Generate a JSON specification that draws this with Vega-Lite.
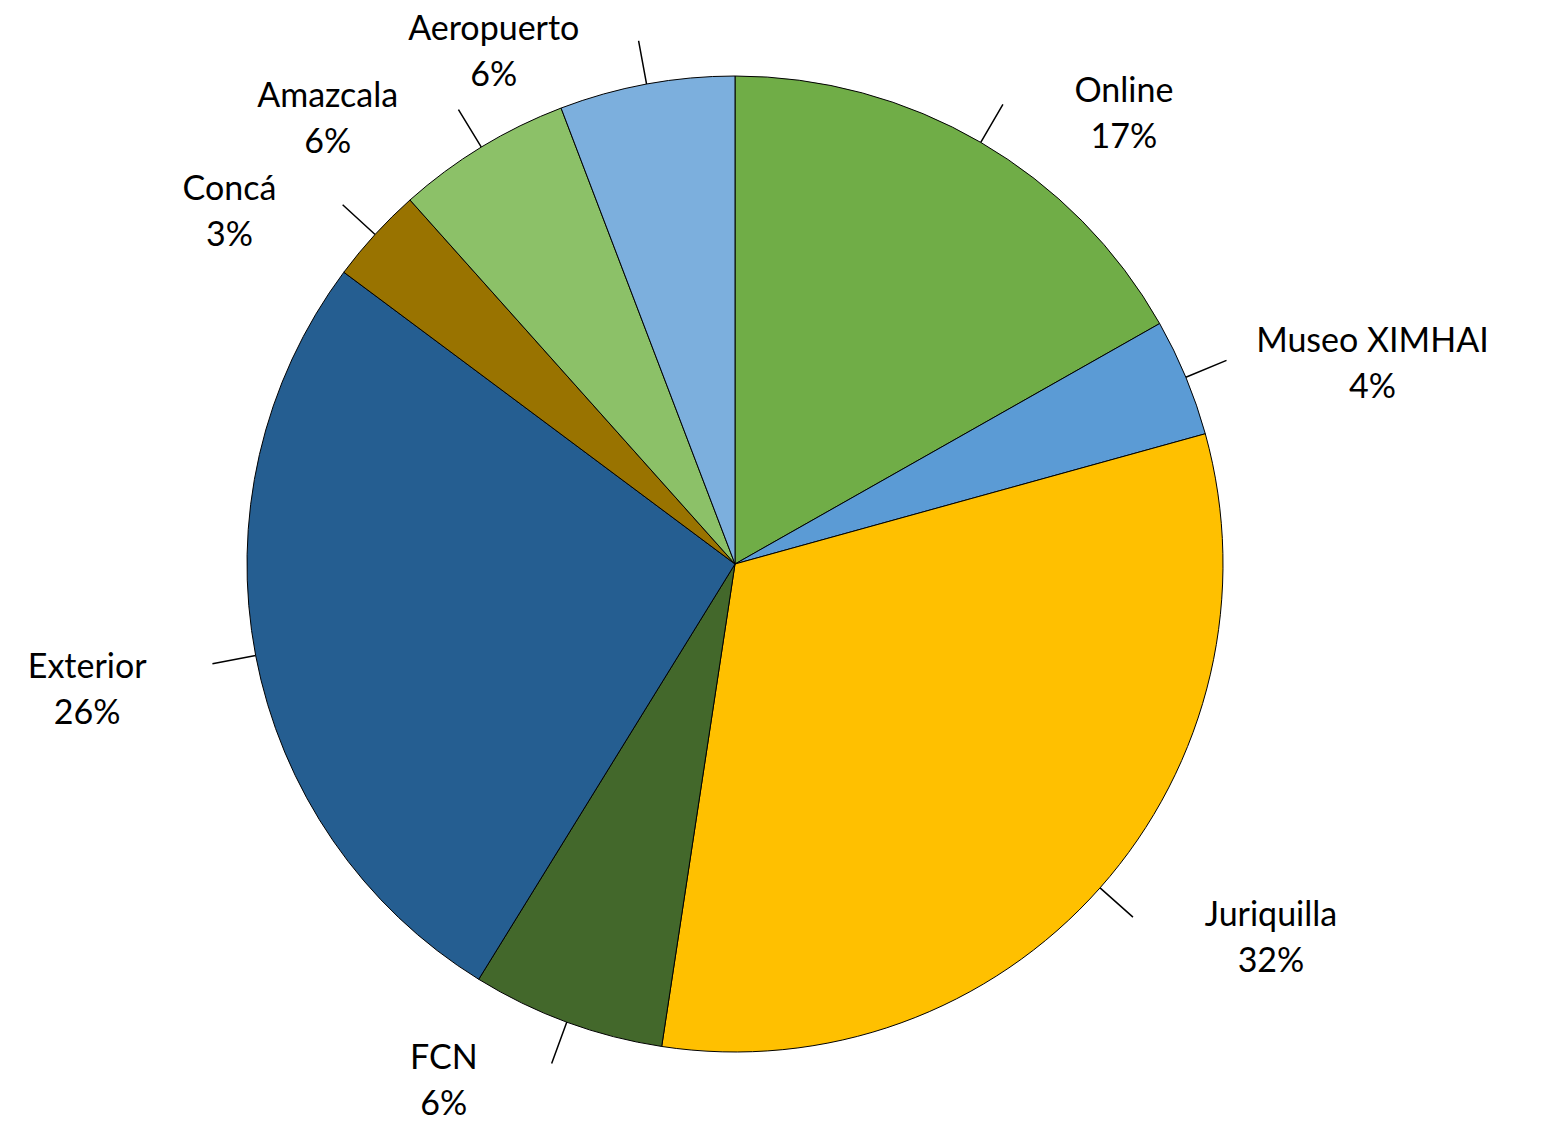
{
  "$schema": "https://vega.github.io/schema/vega-lite/v6.json",
  "width": 1470,
  "height": 1128,
  "autosize": {"type": "none"},
  "padding": {"left": 0, "top": 0, "right": 71, "bottom": 3},
  "background": "white",
  "config": {"view": {"stroke": null}},
  "data": {
    "values": [
      {"lugar": "Online", "pct": 16.8},
      {"lugar": "Museo XIMHAI", "pct": 3.9},
      {"lugar": "Juriquilla", "pct": 31.7},
      {"lugar": "FCN", "pct": 6.4},
      {"lugar": "Exterior", "pct": 26.4},
      {"lugar": "Concá", "pct": 3.2},
      {"lugar": "Amazcala", "pct": 5.8},
      {"lugar": "Aeropuerto", "pct": 5.8}
    ]
  },
  "transform": [
    {"window": [{"op": "sum", "field": "pct", "as": "fin"}], "frame": [null, 0]},
    {"calculate": "datum.fin - datum.pct", "as": "inicio"},
    {"calculate": "datum.fin - datum.pct / 2", "as": "medio"},
    {"calculate": "datum.lugar + '\\n' + format(datum.pct, '.0f') + '%'", "as": "etiqueta"}
  ],
  "layer": [
    {
      "mark": {"type": "arc", "radius": 488, "stroke": "black", "strokeWidth": 1},
      "encoding": {
        "theta": {"field": "inicio", "type": "quantitative", "scale": {"domain": [0, 100]}},
        "theta2": {"field": "fin"},
        "color": {
          "field": "lugar",
          "type": "nominal",
          "scale": {
            "domain": ["Online", "Museo XIMHAI", "Juriquilla", "FCN", "Exterior", "Concá", "Amazcala", "Aeropuerto"],
            "range": ["#70AD47", "#5B9BD5", "#FFC000", "#43682B", "#255E91", "#997300", "#8CC168", "#7CAFDD"]
          },
          "legend": null
        }
      }
    },
    {
      "mark": {"type": "arc", "radius": 532, "radius2": 488, "stroke": "black", "strokeWidth": 1.5, "fill": null},
      "encoding": {
        "theta": {"field": "medio", "type": "quantitative"},
        "theta2": {"field": "medio"}
      }
    },
    {
      "mark": {
        "type": "text",
        "radius": 520,
        "align": "center",
        "baseline": "middle",
        "dy": {"expr": "(datum.medio > 25 && datum.medio < 75) ? 7 : -23"},
        "dx": {"expr": "(datum.medio < 50 ? 1 : -1) * (length(datum.lugar) * 5 + 97)"},
        "font": "Lato",
        "fontSize": 34,
        "lineHeight": 46,
        "lineBreak": "\n",
        "color": "black"
      },
      "encoding": {
        "theta": {"field": "medio", "type": "quantitative", "stack": null},
        "text": {"field": "etiqueta", "type": "nominal"}
      }
    }
  ]
}
